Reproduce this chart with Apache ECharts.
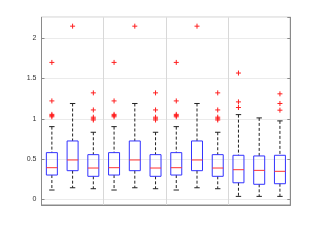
<!DOCTYPE html>
<html><head><meta charset="utf-8">
<script src="https://cdn.jsdelivr.net/npm/echarts@6/dist/echarts.min.js"></script>
<style>html,body{margin:0;padding:0;background:#fff}#c{width:321px;height:241px}</style>
</head><body><div id="c"></div>
<script>
// ---- data ----
const boxPositions = [1, 2, 3, 4, 5, 6, 7, 8, 9, 10, 11, 12];
const lowerWhisker = [0.116, 0.144, 0.132, 0.116, 0.144, 0.132, 0.116, 0.144, 0.132, 0.037, 0.037, 0.037];
const q1           = [0.302, 0.356, 0.286, 0.302, 0.356, 0.286, 0.302, 0.356, 0.286, 0.206, 0.187, 0.194];
const median       = [0.393, 0.489, 0.389, 0.393, 0.489, 0.389, 0.393, 0.489, 0.389, 0.368, 0.360, 0.348];
const q3           = [0.580, 0.725, 0.555, 0.580, 0.725, 0.555, 0.580, 0.725, 0.555, 0.547, 0.539, 0.547];
const upperWhisker = [0.903, 1.190, 0.833, 0.903, 1.190, 0.833, 0.903, 1.190, 0.833, 1.052, 1.011, 0.974];
const outlierBox   = [1, 1, 1, 1, 1, 2, 3, 3, 3, 3, 3,
                      4, 4, 4, 4, 4, 5, 6, 6, 6, 6, 6,
                      7, 7, 7, 7, 7, 8, 9, 9, 9, 9, 9,
                      10, 10, 10, 12, 12, 12];
const outlierValue = [1.70, 1.222, 1.055, 1.04, 1.025, 2.15, 1.322, 1.11, 1.02, 1.0, 0.985,
                      1.70, 1.222, 1.055, 1.04, 1.025, 2.15, 1.322, 1.11, 1.02, 1.0, 0.985,
                      1.70, 1.222, 1.055, 1.04, 1.025, 2.15, 1.322, 1.11, 1.02, 1.0, 0.985,
                      1.568, 1.21, 1.14, 1.31, 1.19, 1.107];
const groupSeparators = [3.5, 6.5, 9.5];
const yMin = -0.07, yMax = 2.26;
const xMin = 0.5, xMax = 12.5;

// ---- build ----
const boxData = boxPositions.map((x, i) => [x, lowerWhisker[i], q1[i], median[i], q3[i], upperWhisker[i]]);
const outlierData = outlierBox.map((x, i) => [x, outlierValue[i]]);

const BOX_W = 0.53, CAP_W = 0.26;
function renderBox(params, api) {
  const x = api.value(0);
  const lo = api.coord([x, api.value(1)]);
  const b1 = api.coord([x, api.value(2)]);
  const md = api.coord([x, api.value(3)]);
  const b3 = api.coord([x, api.value(4)]);
  const hi = api.coord([x, api.value(5)]);
  const bw = api.size([BOX_W, 0])[0];
  const cw = api.size([CAP_W, 0])[0];
  const cx = lo[0];
  const dash = { stroke: '#222', lineWidth: 1, lineDash: [3, 2] };
  const solid = { stroke: '#222', lineWidth: 1 };
  return { type: 'group', children: [
    { type: 'line', shape: { x1: cx, y1: hi[1], x2: cx, y2: b3[1] }, style: dash },
    { type: 'line', shape: { x1: cx, y1: b1[1], x2: cx, y2: lo[1] }, style: dash },
    { type: 'line', shape: { x1: cx - cw / 2, y1: hi[1], x2: cx + cw / 2, y2: hi[1] }, style: solid },
    { type: 'line', shape: { x1: cx - cw / 2, y1: lo[1], x2: cx + cw / 2, y2: lo[1] }, style: solid },
    { type: 'rect', shape: { x: cx - bw / 2, y: b3[1], width: bw, height: b1[1] - b3[1] },
      style: { fill: 'none', stroke: '#3333ff', lineWidth: 1 } },
    { type: 'line', shape: { x1: cx - bw / 2, y1: md[1], x2: cx + bw / 2, y2: md[1] },
      style: { stroke: '#ff3333', lineWidth: 1 } }
  ]};
}
function renderOutlier(params, api) {
  const p = api.coord([api.value(0), api.value(1)]);
  const r = 2.5;
  const st = { stroke: '#ff2020', lineWidth: 1 };
  return { type: 'group', children: [
    { type: 'line', shape: { x1: p[0] - r, y1: p[1], x2: p[0] + r, y2: p[1] }, style: st },
    { type: 'line', shape: { x1: p[0], y1: p[1] - r, x2: p[0], y2: p[1] + r }, style: st }
  ]};
}

const chart = echarts.init(document.getElementById('c'), null, { renderer: 'canvas' });
const axisColor = '#8a8a8a';
chart.setOption({
  animation: false,
  backgroundColor: '#fff',
  grid: { left: 41.5, right: 30.7, top: 17.3, bottom: 36, show: true, borderColor: axisColor, borderWidth: 1, backgroundColor: 'transparent' },
  xAxis: { type: 'value', min: xMin, max: xMax,
    axisLine: { show: true, onZero: false, lineStyle: { color: axisColor } },
    axisTick: { show: false }, axisLabel: { show: false }, splitLine: { show: false } },
  yAxis: [
    { type: 'value', min: yMin, max: yMax, splitNumber: 5,
      axisLine: { show: true, lineStyle: { color: axisColor } },
      axisTick: { show: true, inside: true, length: 3, lineStyle: { color: axisColor } },
      axisLabel: { fontSize: 7, color: '#333', margin: 5, fontFamily: 'Liberation Sans, Arial, sans-serif',
        showMinLabel: false, showMaxLabel: false },
      splitLine: { show: true, lineStyle: { color: '#ebebeb', width: 1 } } },
    { type: 'value', min: yMin, max: yMax, splitNumber: 5, position: 'right',
      axisLine: { show: true, lineStyle: { color: axisColor } },
      axisTick: { show: true, inside: true, length: 3, lineStyle: { color: axisColor } },
      axisLabel: { show: false }, splitLine: { show: false } }
  ],
  series: [
    { type: 'custom', renderItem: renderBox, data: boxData, encode: { x: 0, y: [1, 2, 3, 4, 5] }, z: 3,
      markLine: { silent: true, symbol: 'none', label: { show: false },
        lineStyle: { color: '#d8d8d8', type: 'solid', width: 1 },
        data: groupSeparators.map(v => ({ xAxis: v })) } },
    { type: 'custom', renderItem: renderOutlier, data: outlierData, encode: { x: 0, y: 1 }, z: 4 }
  ]
});
</script>
</body></html>
